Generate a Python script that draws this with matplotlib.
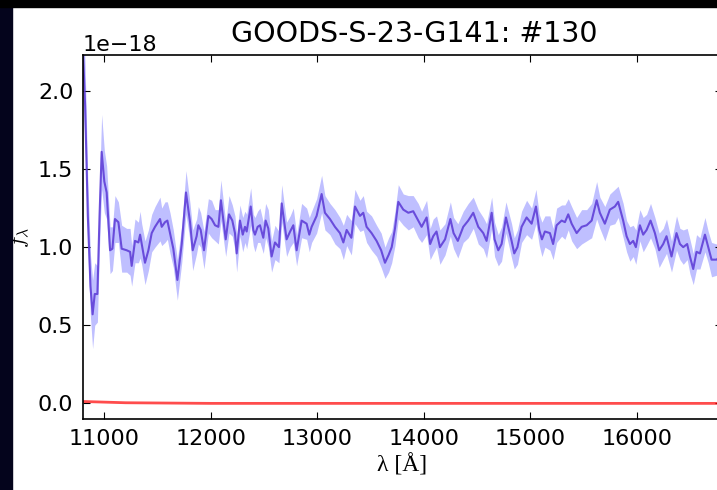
import matplotlib
matplotlib.use("Agg")
import matplotlib.pyplot as plt
from matplotlib.patches import Rectangle

# spectrum (flux in 1e-18 units)
wave = [10800, 10820, 10845, 10870, 10890, 10910, 10935, 10955, 10975, 11000,
        11022, 11054, 11076, 11100, 11132, 11163, 11210, 11242, 11257, 11288,
        11320, 11336, 11351, 11382, 11414, 11445, 11476, 11523, 11539, 11570,
        11592, 11617, 11648, 11686, 11727, 11767, 11805, 11830, 11867, 11883,
        11905, 11936, 11977, 12008, 12040, 12071, 12095, 12140, 12171, 12202,
        12227, 12243, 12274, 12300, 12321, 12337, 12375, 12399, 12415, 12440,
        12462, 12493, 12515, 12540, 12571, 12603, 12640, 12666, 12712, 12745,
        12775, 12806, 12853, 12900, 12925, 12947, 12994, 13041, 13072, 13119,
        13166, 13213, 13245, 13276, 13320, 13354, 13401, 13432, 13463, 13510,
        13557, 13600, 13636, 13670, 13699, 13730, 13761, 13808, 13855, 13901,
        13948, 13980, 14027, 14060, 14089, 14120, 14152, 14200, 14250, 14280,
        14320, 14371, 14418, 14465, 14512, 14559, 14590, 14638, 14665, 14700,
        14731, 14772, 14825, 14850, 14880, 14919, 14966, 15013, 15054, 15085,
        15110, 15138, 15185, 15215, 15248, 15295, 15326, 15357, 15389, 15436,
        15483, 15530, 15577, 15624, 15654, 15701, 15748, 15795, 15826, 15873,
        15905, 15936, 15967, 15992, 16030, 16061, 16093, 16130, 16171, 16211,
        16249, 16280, 16327, 16374, 16406, 16437, 16474, 16500, 16531, 16562,
        16594, 16641, 16672, 16703, 16750, 16800]
flux = [2.25, 1.90, 1.20, 0.75, 0.57, 0.70, 0.70, 1.20, 1.61, 1.42,
        1.35, 0.98, 0.99, 1.18, 1.16, 0.99, 0.98, 0.97, 0.88, 1.04,
        1.03, 1.08, 1.02, 0.90, 0.98, 1.09, 1.13, 1.18, 1.13, 1.16,
        1.17, 1.09, 0.99, 0.79, 1.02, 1.35, 1.16, 0.98, 1.07, 1.14,
        1.11, 0.98, 1.20, 1.18, 1.14, 1.13, 1.30, 1.05, 1.21, 1.17,
        1.09, 0.96, 1.17, 1.08, 1.13, 1.10, 1.26, 1.11, 1.08, 1.13,
        1.14, 1.06, 1.17, 1.12, 0.94, 1.03, 1.00, 1.28, 1.05, 1.10,
        1.14, 0.98, 1.17, 1.15, 1.08, 1.13, 1.20, 1.34, 1.22, 1.18,
        1.13, 1.09, 1.03, 1.11, 1.06, 1.26, 1.20, 1.22, 1.13, 1.09,
        1.04, 0.98, 0.90, 0.95, 1.00, 1.12, 1.29, 1.24, 1.22, 1.23,
        1.17, 1.13, 1.19, 1.02, 1.07, 1.10, 1.00, 1.05, 1.18, 1.09,
        1.04, 1.13, 1.17, 1.22, 1.13, 1.09, 1.04, 1.22, 1.05, 0.98,
        1.02, 1.19, 1.04, 0.96, 1.00, 1.13, 1.19, 1.15, 1.26, 1.11,
        1.05, 1.10, 1.09, 1.02, 1.14, 1.17, 1.16, 1.21, 1.15, 1.09,
        1.13, 1.14, 1.17, 1.30, 1.22, 1.15, 1.24, 1.26, 1.29, 1.17,
        1.07, 1.02, 1.04, 1.00, 1.14, 1.08, 1.11, 1.17, 1.09, 0.98,
        1.02, 1.07, 0.94, 1.09, 1.02, 1.00, 1.02, 0.94, 0.86, 0.97,
        0.96, 1.08, 1.00, 0.92, 0.92, 0.95]
err = [0.30, 0.26, 0.22, 0.20, 0.22, 0.20, 0.18, 0.20, 0.24, 0.20,
       0.17, 0.15, 0.14, 0.15, 0.13, 0.15, 0.14, 0.15, 0.13, 0.14,
       0.13, 0.15, 0.13, 0.14, 0.13, 0.12, 0.13, 0.14, 0.12, 0.13,
       0.12, 0.13, 0.12, 0.13, 0.12, 0.14, 0.12, 0.13, 0.11, 0.12,
       0.11, 0.12, 0.11, 0.12, 0.10, 0.11, 0.13, 0.11, 0.12, 0.10,
       0.11, 0.12, 0.10, 0.11, 0.10, 0.11, 0.12, 0.10, 0.11, 0.10,
       0.11, 0.10, 0.11, 0.12, 0.10, 0.11, 0.10, 0.12, 0.11, 0.10,
       0.11, 0.10, 0.11, 0.10, 0.11, 0.10, 0.11, 0.12, 0.11, 0.10,
       0.11, 0.10, 0.11, 0.10, 0.11, 0.11, 0.10, 0.11, 0.10, 0.11,
       0.10, 0.11, 0.10, 0.11, 0.10, 0.11, 0.11, 0.10, 0.11, 0.10,
       0.11, 0.10, 0.11, 0.10, 0.11, 0.10, 0.11, 0.10, 0.11, 0.10,
       0.11, 0.10, 0.11, 0.10, 0.11, 0.10, 0.11, 0.10, 0.11, 0.10,
       0.11, 0.10, 0.11, 0.10, 0.11, 0.10, 0.11, 0.10, 0.11, 0.10,
       0.11, 0.10, 0.11, 0.10, 0.11, 0.10, 0.11, 0.10, 0.11, 0.10,
       0.11, 0.10, 0.11, 0.12, 0.10, 0.11, 0.10, 0.11, 0.10, 0.11,
       0.10, 0.11, 0.10, 0.11, 0.10, 0.11, 0.10, 0.11, 0.10, 0.11,
       0.10, 0.11, 0.10, 0.11, 0.10, 0.11, 0.10, 0.11, 0.10, 0.11,
       0.10, 0.11, 0.10, 0.11, 0.10, 0.11]

# contamination model
contam_wave = [10800, 11200, 12000, 16800]
contam_flux = [0.012, 0.004, 0.0, 0.0]

scale = 1e-18

plt.rcParams["mathtext.fontset"] = "cm"
plt.rcParams["font.family"] = "DejaVu Sans"

fig = plt.figure(figsize=(7.17, 4.90), dpi=100, facecolor="white")
ax = fig.add_axes([0.1158, 0.1449, 0.891, 0.7429])

lo = [(f - e) * scale for f, e in zip(flux, err)]
hi = [(f + e) * scale for f, e in zip(flux, err)]
ax.fill_between(wave, lo, hi, color="blue", alpha=0.25, linewidth=0)
ax.plot(wave, [f * scale for f in flux], color="#6040d8", linewidth=1.5, alpha=0.9)
ax.plot(contam_wave, [c * scale for c in contam_flux], color="red",
        linewidth=2, alpha=0.7)

ax.set_xlim(10800, 16800)
ax.set_ylim(-0.1e-18, 2.23e-18)
ax.set_xticks([11000, 12000, 13000, 14000, 15000, 16000])
ax.set_yticks([0.0, 0.5e-18, 1.0e-18, 1.5e-18, 2.0e-18])

ax.tick_params(direction="in", top=True, right=True, length=5, width=0.8,
               labelsize=16, pad=7)
ax.yaxis.get_offset_text().set_fontsize(16)
for s in ax.spines.values():
    s.set_linewidth(1.2)

ax.set_title("GOODS-S-23-G141: #130", fontsize=20.5, x=0.518, pad=9)
ax.set_xlabel("λ [Å]", fontsize=17, family="Liberation Serif", labelpad=4)
ax.set_ylabel(r"$f_\lambda$", fontsize=16)

# slide border around the figure
fig.add_artist(Rectangle((0, 0), 12 / 717, 1, transform=fig.transFigure,
                         color="#04041c", zorder=10))
fig.add_artist(Rectangle((0, 1 - 7 / 490), 1, 7 / 490, transform=fig.transFigure,
                         color="black", zorder=10))

fig.savefig("out.png", dpi=100, facecolor="white")
